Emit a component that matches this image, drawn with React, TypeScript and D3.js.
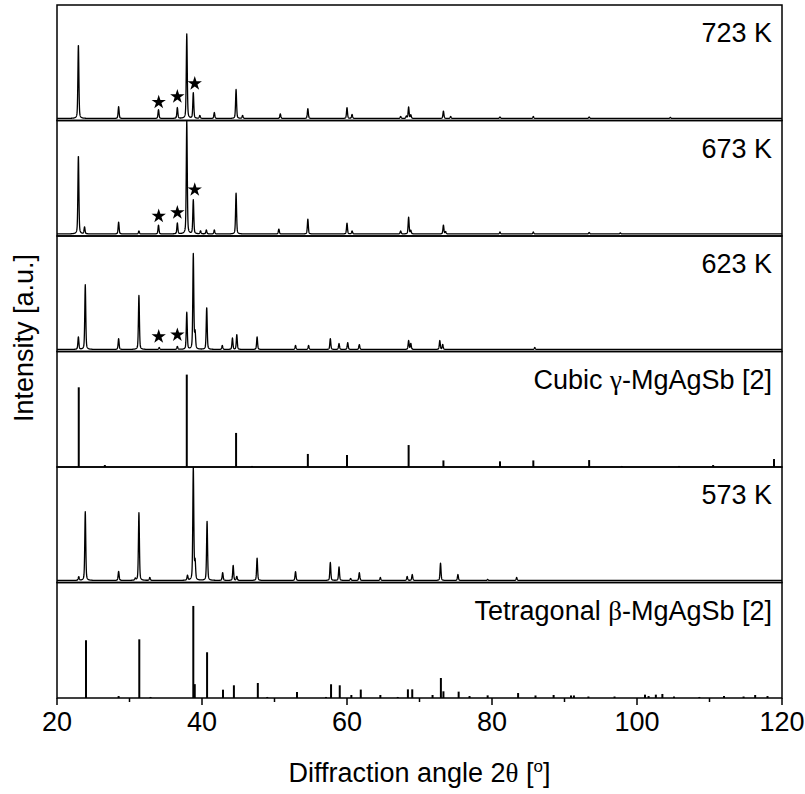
import React from 'react';
import * as d3 from 'd3';

// ---------- data ----------
const panelLabels = ['723 K', '673 K', '623 K', 'Cubic γ-MgAgSb [2]', '573 K', 'Tetragonal β-MgAgSb [2]'];
const panelKinds = ['pattern', 'pattern', 'pattern', 'sticks', 'pattern', 'sticks'];

const xTicksMajor = [20, 40, 60, 80, 100, 120];
const xTicksMinor = [30, 50, 70, 90, 110];

// [2θ, relative intensity in % of panel height]
const peaks723 = [
  [22.95, 65], [28.5, 10.4], [34.0, 7.8], [36.6, 9.5], [37.9, 74.5], [38.8, 22.5], [39.7, 2.6],
  [41.7, 5.2], [44.7, 25.5], [45.6, 2.6], [50.8, 4], [54.6, 8.7], [60.0, 9.5], [60.7, 3.5],
  [67.4, 1.7], [68.2, 2], [68.5, 10], [68.8, 3], [73.3, 6.5], [74.3, 1.7], [81.1, 1.3], [85.7, 1.7],
  [93.4, 1.3], [104.6, 0.9],
];
const peaks673 = [
  [22.95, 69], [23.8, 6], [28.5, 10.4], [31.3, 2.6], [34.0, 7.8], [36.6, 9.5], [37.9, 100],
  [38.8, 30], [39.8, 2.6], [40.6, 3.5], [41.7, 3.5], [44.7, 36], [50.6, 4.3], [54.6, 13],
  [60.0, 9.5], [60.7, 2.6], [67.4, 2.6], [68.5, 14.7], [68.8, 3], [73.3, 7.8], [73.6, 2],
  [81.1, 1.7], [85.7, 1.7], [93.4, 1.3], [97.7, 0.9],
];
const peaks623 = [
  [22.95, 11], [23.9, 57], [28.5, 9.5], [31.3, 47.6], [34.1, 1.7], [36.6, 2.6], [37.9, 32.5],
  [38.8, 84], [39.05, 14], [40.65, 37], [42.8, 3.5], [44.2, 10], [44.8, 13], [47.6, 11],
  [52.9, 3.5], [54.7, 3.5], [57.7, 9.5], [58.9, 5.2], [60.1, 6], [61.7, 4.3], [68.5, 7.8],
  [68.8, 5.2], [72.8, 7.8], [73.2, 4.3], [85.9, 1.7],
];
const peaks573 = [
  [23.0, 3.2], [23.9, 60.6], [28.5, 8], [30.8, 1.7], [31.3, 59.7], [32.8, 2.6], [38.0, 4.3],
  [38.8, 100], [39.05, 15.6], [40.7, 52], [42.85, 6.9], [44.3, 13.2], [44.8, 3.5], [47.6, 19.7],
  [52.9, 7.8], [57.7, 15.8], [58.9, 11.9], [60.5, 1.7], [61.7, 6.9], [64.6, 2.6], [68.3, 3.5],
  [69.0, 5.2], [72.9, 15.3], [75.3, 5.2], [79.4, 0.9], [83.4, 2.6],
];
const sticksCubic = [
  [23.0, 69], [26.6, 1.7], [37.9, 80], [44.7, 29.5], [46.9, 0.9], [54.6, 11.3], [60.0, 10.4],
  [68.5, 19], [73.3, 5.7], [81.1, 4.9], [85.7, 5.7], [93.4, 6], [97.9, 0.9], [105.8, 0.9],
  [110.5, 1.7], [118.9, 6.9],
];
const sticksTetragonal = [
  [24.0, 50], [28.5, 1.7], [31.35, 50.8], [32.9, 0.9], [38.8, 79.7], [39.0, 12], [40.7, 39.6],
  [42.9, 7.2], [44.4, 11], [47.7, 13], [49.0, 0.9], [53.1, 5.2], [57.1, 0.9], [57.8, 11.9],
  [59.0, 11], [60.6, 2.6], [61.9, 7.3], [64.6, 2.6], [67.0, 0.9], [68.4, 7.5], [69.0, 7.5],
  [71.8, 2.6], [72.95, 17.3], [73.3, 5.8], [75.4, 5.5], [76.9, 1.7], [79.4, 2.3], [83.6, 4.3],
  [86.0, 2.2], [88.5, 2.6], [90.9, 2.2], [91.3, 2.2], [93.3, 1.3], [96.9, 1.3], [101.1, 2.9],
  [101.6, 1.7], [102.6, 2.9], [103.5, 3.5], [105.1, 1.3], [108.6, 0.9], [112.0, 1.7],
  [114.7, 1.3], [116.3, 2.6], [118.0, 1.7],
];
const panelData = [peaks723, peaks673, peaks623, sticksCubic, peaks573, sticksTetragonal];

// star markers: [2θ, height %]
const stars723 = [[34.03, 14.3], [36.6, 19.2], [39.0, 30.7]];
const stars673 = [[34.03, 15.8], [36.6, 18.8], [39.0, 39]];
const stars623 = [[34.03, 11.4], [36.6, 12.8]];
const panelStars = [stars723, stars673, stars623, [], [], []];

// ---------- layout ----------
const W = 805, H = 794;
const left = 57, right = 782, top = 5, bottom = 698;
const nPanels = 6;
const ph = (bottom - top) / nPanels;
const FS = 27;
const FONT = '"Liberation Sans", Arial, Helvetica, sans-serif';
const GREEK = '"Liberation Serif", "Times New Roman", serif';

function profile(peaks: number[][], fwhm = 0.16) {
  const pts: [number, number][] = [];
  for (let i = 0; i <= 5000; i++) {
    const x = 20 + i * 0.02;
    let y = 0;
    for (const [p, h] of peaks) {
      const d = x - p;
      if (Math.abs(d) > 3) continue;
      const r = (d * d) / (fwhm * fwhm);
      y += h * (0.6 * Math.exp(-4 * Math.LN2 * r) + 0.4 / (1 + 4 * r));
    }
    pts.push([x, y]);
  }
  return pts;
}

function Label({ text, x, y, size }: { text: string; x: number; y: number; size: number }) {
  const m = text.match(/^(.*?)([γβθ])(.*)$/);
  if (!m) return <text x={x} y={y} textAnchor="end" fontSize={size} fontFamily={FONT}>{text}</text>;
  return (
    <text x={x} y={y} textAnchor="end" fontSize={size} fontFamily={FONT}>
      {m[1]}<tspan fontFamily={GREEK}>{m[2]}</tspan>{m[3]}
    </text>
  );
}

export default function App() {
  const x = d3.scaleLinear().domain([20, 120]).range([left, right]);
  const starPath = d3.symbol().type(d3.symbolStar).size(64)() as string;

  return (
    <svg width={W} height={H} style={{ position: 'absolute', left: 0, top: 0, background: '#fff' }}>
      <defs>
        {panelData.map((_, i) => (
          <clipPath id={`clip${i}`} key={i}>
            <rect x={left} y={top + i * ph} width={right - left} height={ph} />
          </clipPath>
        ))}
      </defs>
      {panelData.map((data, i) => {
        const pTop = top + i * ph;
        const pBot = pTop + ph;
        if (panelKinds[i] === 'pattern') {
          const y = d3.scaleLinear().domain([-1.8, 100]).range([pBot, pTop]);
          const line = d3.line<[number, number]>().x(d => x(d[0])).y(d => y(Math.min(d[1], 101.5)));
          return (
            <g key={i}>
              <path d={line(profile(data)) as string} fill="none" stroke="#000" strokeWidth={1.3}
                strokeLinejoin="round" clipPath={`url(#clip${i})`} />
              {panelStars[i].map((s, k) => (
                <path key={k} d={starPath} transform={`translate(${x(s[0])},${y(s[1])})`} fill="#000" />
              ))}
            </g>
          );
        }
        const y = d3.scaleLinear().domain([0, 100]).range([pBot, pTop]);
        return (
          <g key={i}>
            {data.map((d, k) => (
              <line key={k} x1={x(d[0])} x2={x(d[0])} y1={y(0)} y2={y(d[1])} stroke="#000" strokeWidth={2} />
            ))}
          </g>
        );
      })}
      {/* frames */}
      {panelData.map((_, i) => (
        <rect key={i} x={left} y={top + i * ph} width={right - left} height={ph} fill="none" stroke="#000" strokeWidth={1.5} />
      ))}
      {panelLabels.map((t, i) => (
        <Label key={i} text={t} x={772} y={top + i * ph + 37} size={FS} />
      ))}
      {/* x axis */}
      {xTicksMajor.map(t => (
        <g key={t}>
          <line x1={x(t)} x2={x(t)} y1={bottom} y2={bottom + 7} stroke="#000" strokeWidth={1.5} />
          <text x={x(t)} y={bottom + 33} textAnchor="middle" fontSize={FS} fontFamily={FONT}>{t}</text>
        </g>
      ))}
      {xTicksMinor.map(t => (
        <line key={t} x1={x(t)} x2={x(t)} y1={bottom} y2={bottom + 4} stroke="#000" strokeWidth={1.5} />
      ))}
      <text x={(left + right) / 2} y={782} textAnchor="middle" fontSize={FS} fontFamily={FONT}>
        Diffraction angle 2<tspan fontFamily={GREEK}>θ</tspan> [<tspan fontSize={17} dy={-10}>o</tspan><tspan dy={10}>]</tspan>
      </text>
      <text transform={`translate(32.5,338) rotate(-90)`} textAnchor="middle" fontSize={FS} fontFamily={FONT}>
        Intensity [a.u.]
      </text>
    </svg>
  );
}
